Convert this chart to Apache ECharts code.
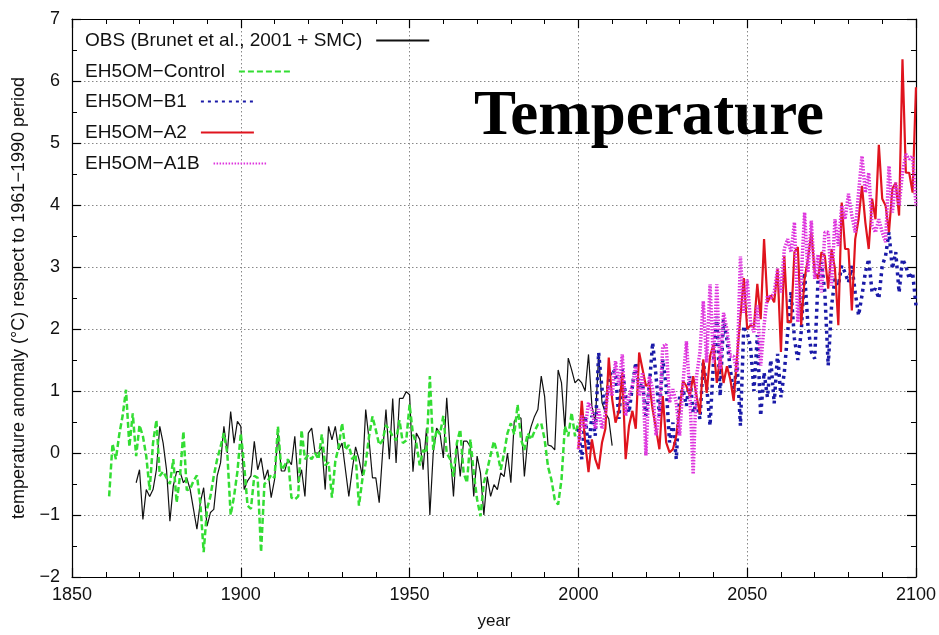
<!DOCTYPE html>
<html>
<head>
<meta charset="utf-8">
<script src="https://cdn.jsdelivr.net/npm/echarts@6/dist/echarts.min.js"></script>
<style>
html,body{margin:0;padding:0;background:#fff;}
#chart{width:939px;height:635px;}
</style>
</head>
<body>
<div id="chart"></div>
<script>
// ---- Data ----
const seriesNames = ["OBS (Brunet et al., 2001 + SMC)", "EH5OM\u2212Control", "EH5OM\u2212B1", "EH5OM\u2212A2", "EH5OM\u2212A1B"];
const xTicks = [1850, 1900, 1950, 2000, 2050, 2100];
const yTicks = [-2, -1, 0, 1, 2, 3, 4, 5, 6, 7];

const obsStart = 1869;
const obsValues = [
 -0.48,-0.27,-1.07,-0.59,-0.70,-0.59,-0.27,0.43,0.16,-0.27,
 -1.10,-0.53,-0.30,-0.30,-0.48,-0.40,-0.59,-0.91,-1.23,-0.80,
 -0.56,-1.18,-0.96,-0.91,-0.37,-0.16,0.43,0.00,0.67,0.16,
 0.51,0.43,-0.59,-0.45,-0.37,0.19,-0.27,-0.08,-0.43,-0.27,
 -0.72,-0.43,0.32,-0.29,-0.29,-0.10,-0.19,0.27,-0.48,-0.27,
 -0.70,0.32,0.40,0.00,0.00,0.10,-0.59,0.43,0.21,0.43,
 0.05,0.16,-0.27,-0.70,-0.27,0.10,-0.10,-0.37,0.70,0.21,
 -0.40,-0.40,-0.80,0.00,0.70,-0.10,0.88,-0.16,0.88,0.88,
 0.99,0.94,-0.30,0.32,0.22,-0.27,0.40,-1.00,0.00,0.40,
 0.32,-0.08,0.89,0.05,-0.70,0.19,-0.38,0.19,0.19,0.10,
 -0.70,-0.05,-0.32,-1.00,-0.38,-0.70,-0.51,-0.59,-0.32,-0.38,
 0.00,-0.48,0.51,0.59,0.56,-0.38,0.22,0.43,0.59,0.70,
 1.24,0.91,0.13,0.11,0.05,1.34,1.13,0.38,1.53,1.34,
 1.13,1.19,1.13,1.00,1.59,0.76,0.49,1.59,0.81,0.65,
 0.55,0.12
];

const controlStart = 1861;
const controlValues = [
 -0.70,0.15,-0.10,0.30,0.60,1.02,0.10,0.64,-0.05,0.45,
 0.27,-0.05,-0.60,0.16,0.53,-0.37,-0.30,-0.40,-0.50,-0.10,
 -0.80,-0.37,0.35,-0.60,-0.58,-0.45,-0.36,-0.80,-1.60,-0.90,
 -0.70,-0.37,-0.10,0.10,0.32,0.00,-1.00,-0.70,-0.30,0.32,
 -0.20,-0.85,-0.90,-0.37,-0.40,-1.60,-0.50,-0.45,-0.35,-0.40,
 0.43,-0.27,-0.20,-0.10,-0.72,-0.75,-0.70,0.37,-0.10,-0.03,
 -0.10,0.00,-0.10,0.30,-0.20,-0.15,-0.72,-0.13,0.10,0.48,
 0.05,0.13,-0.10,-0.02,-0.85,-0.43,-0.16,0.27,0.59,0.37,
 0.13,0.20,0.45,0.37,0.27,0.20,0.53,0.16,0.20,0.78,
 0.30,0.16,-0.20,0.05,0.00,1.24,0.05,0.38,0.30,0.60,
 0.00,-0.10,-0.38,0.16,0.38,-0.32,-0.48,0.22,-0.32,-0.75,
 -1.02,-0.48,-0.27,-0.03,0.19,0.00,-0.27,0.00,0.32,0.48,
 0.30,0.78,0.22,0.05,0.32,0.22,0.35,0.46,0.48,0.22,
 -0.22,-0.43,-0.75,-0.83,-0.43,0.43,0.27,0.65,0.27,0.50
];

const scenStart = 2000;
const b1Values = [
 0.39,-0.10,0.60,0.06,0.60,0.28,1.62,1.03,0.71,1.19,
 1.35,1.30,0.55,1.35,0.92,0.65,1.08,1.46,1.03,1.13,
 0.60,1.08,1.78,1.24,0.60,1.51,1.08,0.17,0.49,-0.10,
 0.92,1.03,0.76,1.24,0.65,0.81,0.55,1.46,1.08,0.44,
 1.46,2.20,0.92,2.15,1.83,1.35,0.97,1.46,0.44,2.05,
 1.94,1.72,1.00,1.90,0.60,1.30,0.90,1.50,0.80,1.60,
 0.90,1.30,1.95,2.60,1.84,1.50,1.95,2.91,2.06,1.63,
 1.52,2.81,3.08,2.59,1.41,2.38,2.81,2.70,3.02,2.91,
 2.75,3.02,2.59,2.22,2.54,2.91,3.13,2.59,2.65,2.49,
 3.02,3.18,3.56,2.97,3.24,2.59,3.13,3.02,2.81,2.91,
 2.38
];
const a2Values = [
 0.06,0.84,0.17,-0.31,0.22,-0.10,-0.26,0.17,0.39,1.54,
 0.87,0.49,0.68,1.30,-0.10,0.44,0.68,0.39,1.62,1.35,
 1.08,1.13,0.70,0.39,0.06,0.92,0.17,0.01,0.06,0.28,
 0.70,1.16,1.08,0.92,1.24,0.92,0.63,1.51,0.97,1.56,
 1.75,1.13,1.56,1.13,1.40,1.19,0.84,1.56,2.20,2.82,
 2.00,2.06,2.03,2.73,2.16,3.45,2.43,2.54,2.43,2.97,
 1.63,3.18,2.11,2.11,3.24,3.32,2.06,2.81,3.13,3.56,
 2.91,2.81,3.24,3.18,2.65,3.29,2.97,2.06,4.04,3.29,
 3.29,2.30,3.45,3.77,4.31,3.72,3.29,4.10,3.77,4.97,
 4.10,3.99,3.56,4.26,4.36,3.83,6.35,4.52,4.52,4.20,
 5.90
];
const a1bValues = [
 0.06,0.60,0.39,0.81,0.71,0.39,0.71,0.39,0.65,1.08,
 0.92,1.48,1.08,1.59,0.60,0.92,1.08,1.40,0.92,1.30,
 -0.04,1.24,1.03,0.28,0.65,1.72,1.75,0.81,1.03,0.81,
 0.28,1.13,1.80,0.97,-0.34,1.24,1.62,2.45,1.46,2.72,
 1.46,2.72,1.35,2.26,1.99,1.56,1.56,1.30,3.17,2.26,
 2.80,2.11,1.95,2.38,1.41,2.06,2.54,2.50,2.59,2.97,
 2.59,3.29,3.45,3.24,3.72,2.11,2.80,3.88,2.91,3.75,
 2.81,3.20,2.59,3.56,3.56,2.70,3.77,3.34,3.99,3.77,
 4.18,3.83,3.56,4.20,4.79,4.20,4.52,3.67,3.56,3.77,
 3.56,3.40,4.63,3.88,4.36,3.99,4.52,4.82,4.74,4.79,
 3.99
];

// ---- Build ----
function pairs(start, vals){ return vals.map((v,i)=>[start+i, v]); }
function minus(v){ return String(v).replace('-', '\u2212'); }

const labelFont = {fontFamily:'Liberation Sans', fontSize:18, color:'#111'};
const chart = echarts.init(document.getElementById('chart'), null, {renderer:'canvas'});

const xBase = {
  type:'value', min:xTicks[0], max:xTicks[xTicks.length-1], interval:50,
  axisLine:{show:true, onZero:false, lineStyle:{color:'#000', width:1.2}},
  axisTick:{show:true, inside:true, length:9, lineStyle:{color:'#000', width:1.2}},
  minorTick:{show:true, splitNumber:5, length:5, lineStyle:{color:'#000', width:1}},
};
const yBase = {
  type:'value', min:yTicks[0], max:yTicks[yTicks.length-1], interval:1,
  axisLine:{show:true, onZero:false, lineStyle:{color:'#000', width:1.2}},
  axisTick:{show:true, inside:true, length:9, lineStyle:{color:'#000', width:1.2}},
  minorTick:{show:true, splitNumber:2, length:5, lineStyle:{color:'#000', width:1}},
};

const legendRowsTop = [31, 62, 92, 123, 154];
const legends = seriesNames.map((n, i) => ({
  show:true, orient:'vertical', left:85, top:legendRowsTop[i], align:'right',
  itemWidth:53, itemHeight:14, padding:0,
  itemStyle:{opacity:0, borderWidth:0},
  textStyle:{fontFamily:'Liberation Sans', fontSize:19, color:'#111', padding:[0,9,0,0]},
  data:[n]
}));

const option = {
  backgroundColor:'#fff',
  animation:false,
  grid:{left:72, right:23, top:19, bottom:55, containLabel:false},
  xAxis:[
    Object.assign({}, xBase, {
      position:'bottom',
      name:'year', nameLocation:'middle', nameGap:36,
      nameTextStyle:{fontFamily:'Liberation Sans', fontSize:17, color:'#111'},
      axisLabel:Object.assign({margin:9, formatter:(v)=>String(v)}, labelFont),
      splitLine:{show:true, lineStyle:{color:'#888', type:[1.5,2.5], width:1}}
    }),
    Object.assign({}, xBase, {
      position:'top', axisLabel:{show:false}, splitLine:{show:false}
    })
  ],
  yAxis:[
    Object.assign({}, yBase, {
      position:'left',
      name:'temperature anomaly (\u00B0C) respect to 1961\u22121990 period',
      nameLocation:'middle', nameGap:44, nameRotate:90,
      nameTextStyle:{fontFamily:'Liberation Sans', fontSize:18, color:'#111'},
      axisLabel:Object.assign({margin:12, formatter:minus}, labelFont),
      splitLine:{show:true, lineStyle:{color:'#888', type:[1.5,2.5], width:1}}
    }),
    Object.assign({}, yBase, {
      position:'right', axisLabel:{show:false}, splitLine:{show:false}
    })
  ],
  legend:legends,
  graphic:[{
    type:'text', left:474, top:86, z:100,
    style:{text:'Temperature', font:'bold 63px "Liberation Serif"', fill:'#000'}
  }],
  series:[
    {name:seriesNames[0], type:'line', data:pairs(obsStart, obsValues), symbol:'none',
     lineStyle:{color:'#111', width:1.2}, itemStyle:{color:'#111'}},
    {name:seriesNames[1], type:'line', data:pairs(controlStart, controlValues), symbol:'none',
     lineStyle:{color:'#33dd33', width:2.5, type:[6,3]}, itemStyle:{color:'#33dd33'}},
    {name:seriesNames[2], type:'line', data:pairs(scenStart, b1Values), symbol:'none',
     lineStyle:{color:'#1a1aa8', width:3.5, type:[3,4]}, itemStyle:{color:'#1a1aa8'}},
    {name:seriesNames[3], type:'line', data:pairs(scenStart, a2Values), symbol:'none',
     lineStyle:{color:'#e0141e', width:2.2}, itemStyle:{color:'#e0141e'}},
    {name:seriesNames[4], type:'line', data:pairs(scenStart, a1bValues), symbol:'none',
     lineStyle:{color:'#dd33dd', width:3.5, type:[1.5,1.5]}, itemStyle:{color:'#dd33dd'}}
  ]
};
chart.setOption(option);
</script>
</body>
</html>
